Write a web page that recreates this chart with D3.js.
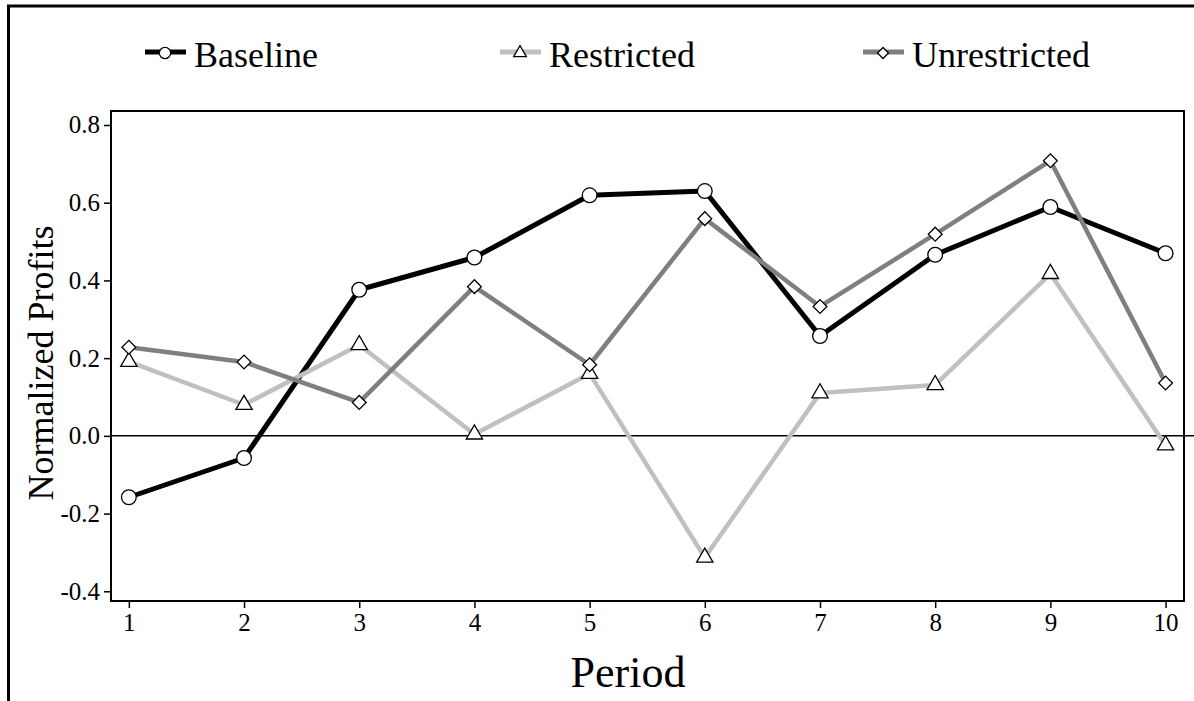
<!DOCTYPE html>
<html>
<head>
<meta charset="utf-8">
<script src="https://cdn.jsdelivr.net/npm/d3@7"></script>
<style>
	body { margin: 0; background: #fff; }
	svg { display: block; font-family: "Liberation Serif", "Times New Roman", serif; }
</style>
</head>
<body>
<div id="mainWrapper"><svg width="1194" height="701"></svg></div>
<script>

// データ
var periods = [1, 2, 3, 4, 5, 6, 7, 8, 9, 10];
var baseline = [-0.158, -0.057, 0.376, 0.459, 0.619, 0.630, 0.257, 0.466, 0.589, 0.470];
var restricted = [0.191, 0.080, 0.234, 0.004, 0.160, -0.313, 0.110, 0.131, 0.417, -0.024];
var unrestricted = [0.228, 0.190, 0.086, 0.384, 0.183, 0.559, 0.333, 0.519, 0.708, 0.136];
var yTicks = [-0.4, -0.2, 0.0, 0.2, 0.4, 0.6, 0.8];
var seriesNames = ["Baseline", "Restricted", "Unrestricted"];

var series = [
	{ name: seriesNames[0], values: baseline, color: "#000000", width: 5, symbol: "circle" },
	{ name: seriesNames[1], values: restricted, color: "#c0c0c0", width: 4.5, symbol: "triangle" },
	{ name: seriesNames[2], values: unrestricted, color: "#7f7f7f", width: 4.5, symbol: "diamond" }
];

var svg = d3.select("#mainWrapper>svg");

// プロット領域 (topはwindow.topと被るので別名)
var pLeft = 111, pRight = 1184, pTop = 111, pBottom = 601;

var x = d3.scaleLinear().domain([0.845, 10.16]).range([pLeft, pRight]);
var y = d3.scaleLinear().domain([-0.425, 0.836]).range([pBottom, pTop]);

//外枠
svg.append("path")
	.attr("d", "M8.5,701 L8.5,6 L1194,6")
	.attr("fill", "none")
	.attr("stroke", "#000")
	.attr("stroke-width", 3);

//ゼロ線
svg.append("line")
	.attr("x1", pLeft).attr("x2", 1194)
	.attr("y1", y(0)).attr("y2", y(0))
	.attr("stroke", "#000")
	.attr("stroke-width", 1.5);

//軸
var xAxis = svg.append("g")
	.attr("transform", "translate(0," + pBottom + ")")
	.call(d3.axisBottom(x).tickValues(periods).tickFormat(d3.format("d")).tickSizeInner(7).tickSizeOuter(0).tickPadding(5));

// マイナスはハイフンで
var yAxis = svg.append("g")
	.attr("transform", "translate(" + pLeft + ",0)")
	.call(d3.axisLeft(y).tickValues(yTicks)
		.tickFormat(function(d){ return d.toFixed(1).replace("-0.0", "0.0"); })
		.tickSizeInner(7).tickSizeOuter(0).tickPadding(4));

[xAxis, yAxis].forEach(function(g){
	g.select(".domain").remove();
	g.selectAll("line").attr("stroke", "#000").attr("stroke-width", 1.5);
	g.selectAll("text")
		.attr("fill", "#000")
		.style("font-family", "'Liberation Serif', serif")
		.style("font-size", "25px");
});

//プロット枠
svg.append("rect")
	.attr("x", pLeft).attr("y", pTop)
	.attr("width", pRight - pLeft).attr("height", pBottom - pTop)
	.attr("fill", "none")
	.attr("stroke", "#000")
	.attr("stroke-width", 2);

function symbolPath(type, size) {
	var t = type == "circle" ? d3.symbolCircle : (type == "triangle" ? d3.symbolTriangle : d3.symbolSquare);
	return d3.symbol().type(t).size(size)();
}

var line = d3.line()
	.x(function(d, i){ return x(periods[i]); })
	.y(function(d){ return y(d); });

//折れ線
series.forEach(function(s){
	svg.append("path")
		.datum(s.values)
		.attr("d", line)
		.attr("fill", "none")
		.attr("stroke", s.color)
		.attr("stroke-width", s.width)
		.attr("stroke-linejoin", "round");
});

//マーカー
series.forEach(function(s){
	var size = s.symbol == "circle" ? 170 : (s.symbol == "triangle" ? 115 : 95);
	svg.append("g")
		.selectAll("path")
		.data(s.values)
		.enter()
		.append("path")
		.attr("d", symbolPath(s.symbol, size))
		.attr("fill", "#fff")
		.attr("stroke", "#000")
		.attr("stroke-width", 1.3)
		.attr("transform", function(d, i){
			var r = s.symbol == "diamond" ? " rotate(45)" : "";
			return "translate(" + x(periods[i]) + "," + y(d) + ")" + r;
		});
});

//凡例
var legendX = [145, 500, 863];
var legend = svg.append("g")
	.selectAll("g")
	.data(series)
	.enter()
	.append("g")
	.attr("transform", function(d, i){ return "translate(" + legendX[i] + ",52)"; });

legend.append("line")
	.attr("x1", 0).attr("x2", 41)
	.attr("y1", 0).attr("y2", 0)
	.attr("stroke", function(d){ return d.color; })
	.attr("stroke-width", 5);

legend.append("path")
	.attr("d", function(d){
		var size = d.symbol == "circle" ? 100 : (d.symbol == "triangle" ? 70 : 60);
		return symbolPath(d.symbol, size);
	})
	.attr("fill", "#fff")
	.attr("stroke", "#000")
	.attr("stroke-width", 1.3)
	.attr("transform", function(d){ return "translate(20,1)" + (d.symbol == "diamond" ? " rotate(45)" : ""); });

legend.append("text")
	.attr("x", 49)
	.attr("y", 15)
	.style("font-size", "36px")
	.attr("fill", "#000")
	.text(function(d){ return d.name; });

//軸ラベル
svg.append("text")
	.attr("x", 628)
	.attr("y", 687)
	.attr("text-anchor", "middle")
	.style("font-size", "44px")
	.text("Period");

svg.append("text")
	.attr("transform", "translate(53," + 363 + ") rotate(-90)")
	.attr("text-anchor", "middle")
	.style("font-size", "36px")
	.text("Normalized Profits");

</script>
</body>
</html>
